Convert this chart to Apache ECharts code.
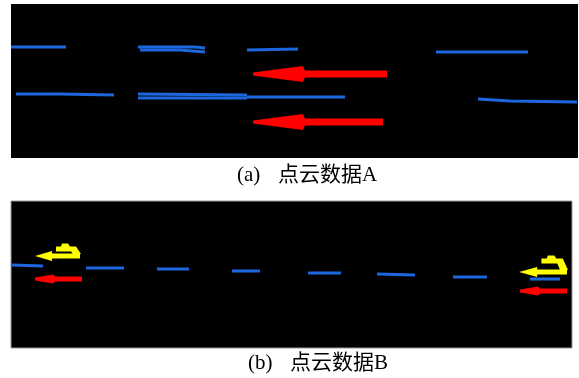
<!DOCTYPE html>
<html>
<head>
<meta charset="utf-8">
<script src="https://cdn.jsdelivr.net/npm/echarts@6/dist/echarts.min.js"></script>
<style>
  html, body { margin: 0; padding: 0; background: #fff; }
  #chart { width: 579px; height: 378px; }
</style>
</head>
<body>
<div id="chart"></div>
<script>
// point cloud A: lane line segments, each a list of [x, y]
const laneA = [
  [[11, 47], [66, 47]],
  [[138, 47], [195, 47], [205, 48]],
  [[140, 50], [180, 50], [205, 52]],
  [[247, 50], [298, 49]],
  [[436, 52], [528, 52]],
  [[16, 94], [60, 94], [114, 95]],
  [[138, 94], [247, 95]],
  [[138, 98], [200, 98], [247, 98]],
  [[247, 97], [345, 97]],
  [[478, 99], [510, 101], [577, 102]]
];
// arrows in A: [tipX, tipY, tailX]
const arrowsA = [
  [253, 74, 387],
  [253, 122, 383]
];

// point cloud B
const laneB = [
  [[12, 265], [43, 266]],
  [[86, 268], [124, 268]],
  [[157, 269], [189, 269]],
  [[232, 271], [260, 271]],
  [[308, 273], [341, 273]],
  [[377, 274], [415, 275]],
  [[453, 277], [487, 277]],
  [[530, 279], [560, 279]]
];
const arrowsB = [
  [35, 279, 82],
  [520, 291, 567]
];
// turn arrows in B: [tipX, tipY, tailX, barY]
const turnArrowsB = [
  [35, 256, 80, 249],
  [519, 272, 567, 261]
];

const captionA = ['(a)', '点云数据A'];
const captionB = ['(b)', '点云数据B'];

const BLUE = '#1c66de';
const RED = '#ff0000';
const YELLOW = '#ffff00';
const FONT = "'Liberation Serif', 'Noto Sans CJK SC', serif";

function arrowRenderer(headLen, headHalf, shaftHalf, color) {
  return function (params, api) {
    const x = api.value(0), y = api.value(1), tail = api.value(2);
    const pts = [
      [x, y - 1.5], [x + headLen, y - headHalf], [x + headLen + 2, y - shaftHalf],
      [tail, y - shaftHalf], [tail, y + shaftHalf], [x + headLen + 2, y + shaftHalf],
      [x + headLen, y + headHalf], [x, y + 1.5]
    ].map((p) => api.coord(p));
    return { type: 'polygon', shape: { points: pts }, style: { fill: color } };
  };
}

function turnArrowRenderer(params, api) {
  const x = api.value(0), y = api.value(1), tail = api.value(2), bar = api.value(3);
  const s = (tail - x) / 45;
  const main = [
    [x, y], [x + 17 * s, y - 5], [x + 17 * s, y - 2.5], [tail, y - 2.5],
    [tail, y + 2.5], [x + 17 * s, y + 2.5], [x + 17 * s, y + 5]
  ].map((p) => api.coord(p));
  const branch = [
    [x + 21 * s, bar - 2.5], [x + 26 * s, bar - 2.5], [x + 27 * s, bar - 5.5], [x + 33 * s, bar - 5.5],
    [x + 35 * s, bar - 2.5], [x + 41 * s, bar - 2.5], [tail + 1, y - 2], [tail - 7, y - 2],
    [x + 36 * s, bar + 2.5], [x + 21 * s, bar + 2.5]
  ].map((p) => api.coord(p));
  return {
    type: 'group',
    children: [
      { type: 'polygon', shape: { points: main }, style: { fill: YELLOW } },
      { type: 'polygon', shape: { points: branch }, style: { fill: YELLOW } }
    ]
  };
}

function laneSeries(segments, idx, width) {
  return segments.map((seg) => ({
    type: 'line',
    xAxisIndex: idx,
    yAxisIndex: idx,
    data: seg,
    showSymbol: false,
    silent: true,
    lineStyle: { color: BLUE, width: width },
    z: 3
  }));
}

const chart = echarts.init(document.getElementById('chart'));

const option = {
  backgroundColor: '#fff',
  animation: false,
  grid: [
    { left: 11, top: 4, width: 567, height: 154, show: true, backgroundColor: '#000', borderWidth: 0 },
    { left: 11, top: 201, width: 561, height: 147, show: true, backgroundColor: '#000', borderColor: '#999', borderWidth: 1 }
  ],
  xAxis: [
    { type: 'value', gridIndex: 0, min: 11, max: 578, show: false },
    { type: 'value', gridIndex: 1, min: 11, max: 572, show: false }
  ],
  yAxis: [
    { type: 'value', gridIndex: 0, min: 4, max: 158, inverse: true, show: false },
    { type: 'value', gridIndex: 1, min: 201, max: 348, inverse: true, show: false }
  ],
  title: [
    { text: captionA[0], left: 237, top: 165 },
    { text: captionA[1], left: 278, top: 165 },
    { text: captionB[0], left: 248, top: 353 },
    { text: captionB[1], left: 290, top: 353 }
  ].map((t) => Object.assign(t, {
    padding: 0,
    textStyle: { fontFamily: FONT, fontSize: 21, fontWeight: 'normal', color: '#000' }
  })),
  series: [
    ...laneSeries(laneA, 0, 3),
    ...laneSeries(laneB, 1, 3),
    {
      type: 'custom',
      xAxisIndex: 0,
      yAxisIndex: 0,
      data: arrowsA,
      encode: { x: [0, 2], y: 1 },
      renderItem: arrowRenderer(50, 8, 3.5, RED),
      z: 4
    },
    {
      type: 'custom',
      xAxisIndex: 1,
      yAxisIndex: 1,
      data: arrowsB,
      encode: { x: [0, 2], y: 1 },
      renderItem: arrowRenderer(18, 4.5, 2.5, RED),
      z: 4
    },
    {
      type: 'custom',
      xAxisIndex: 1,
      yAxisIndex: 1,
      data: turnArrowsB,
      encode: { x: [0, 2], y: [1, 3] },
      renderItem: turnArrowRenderer,
      z: 4
    }
  ]
};

chart.setOption(option);
</script>
</body>
</html>
